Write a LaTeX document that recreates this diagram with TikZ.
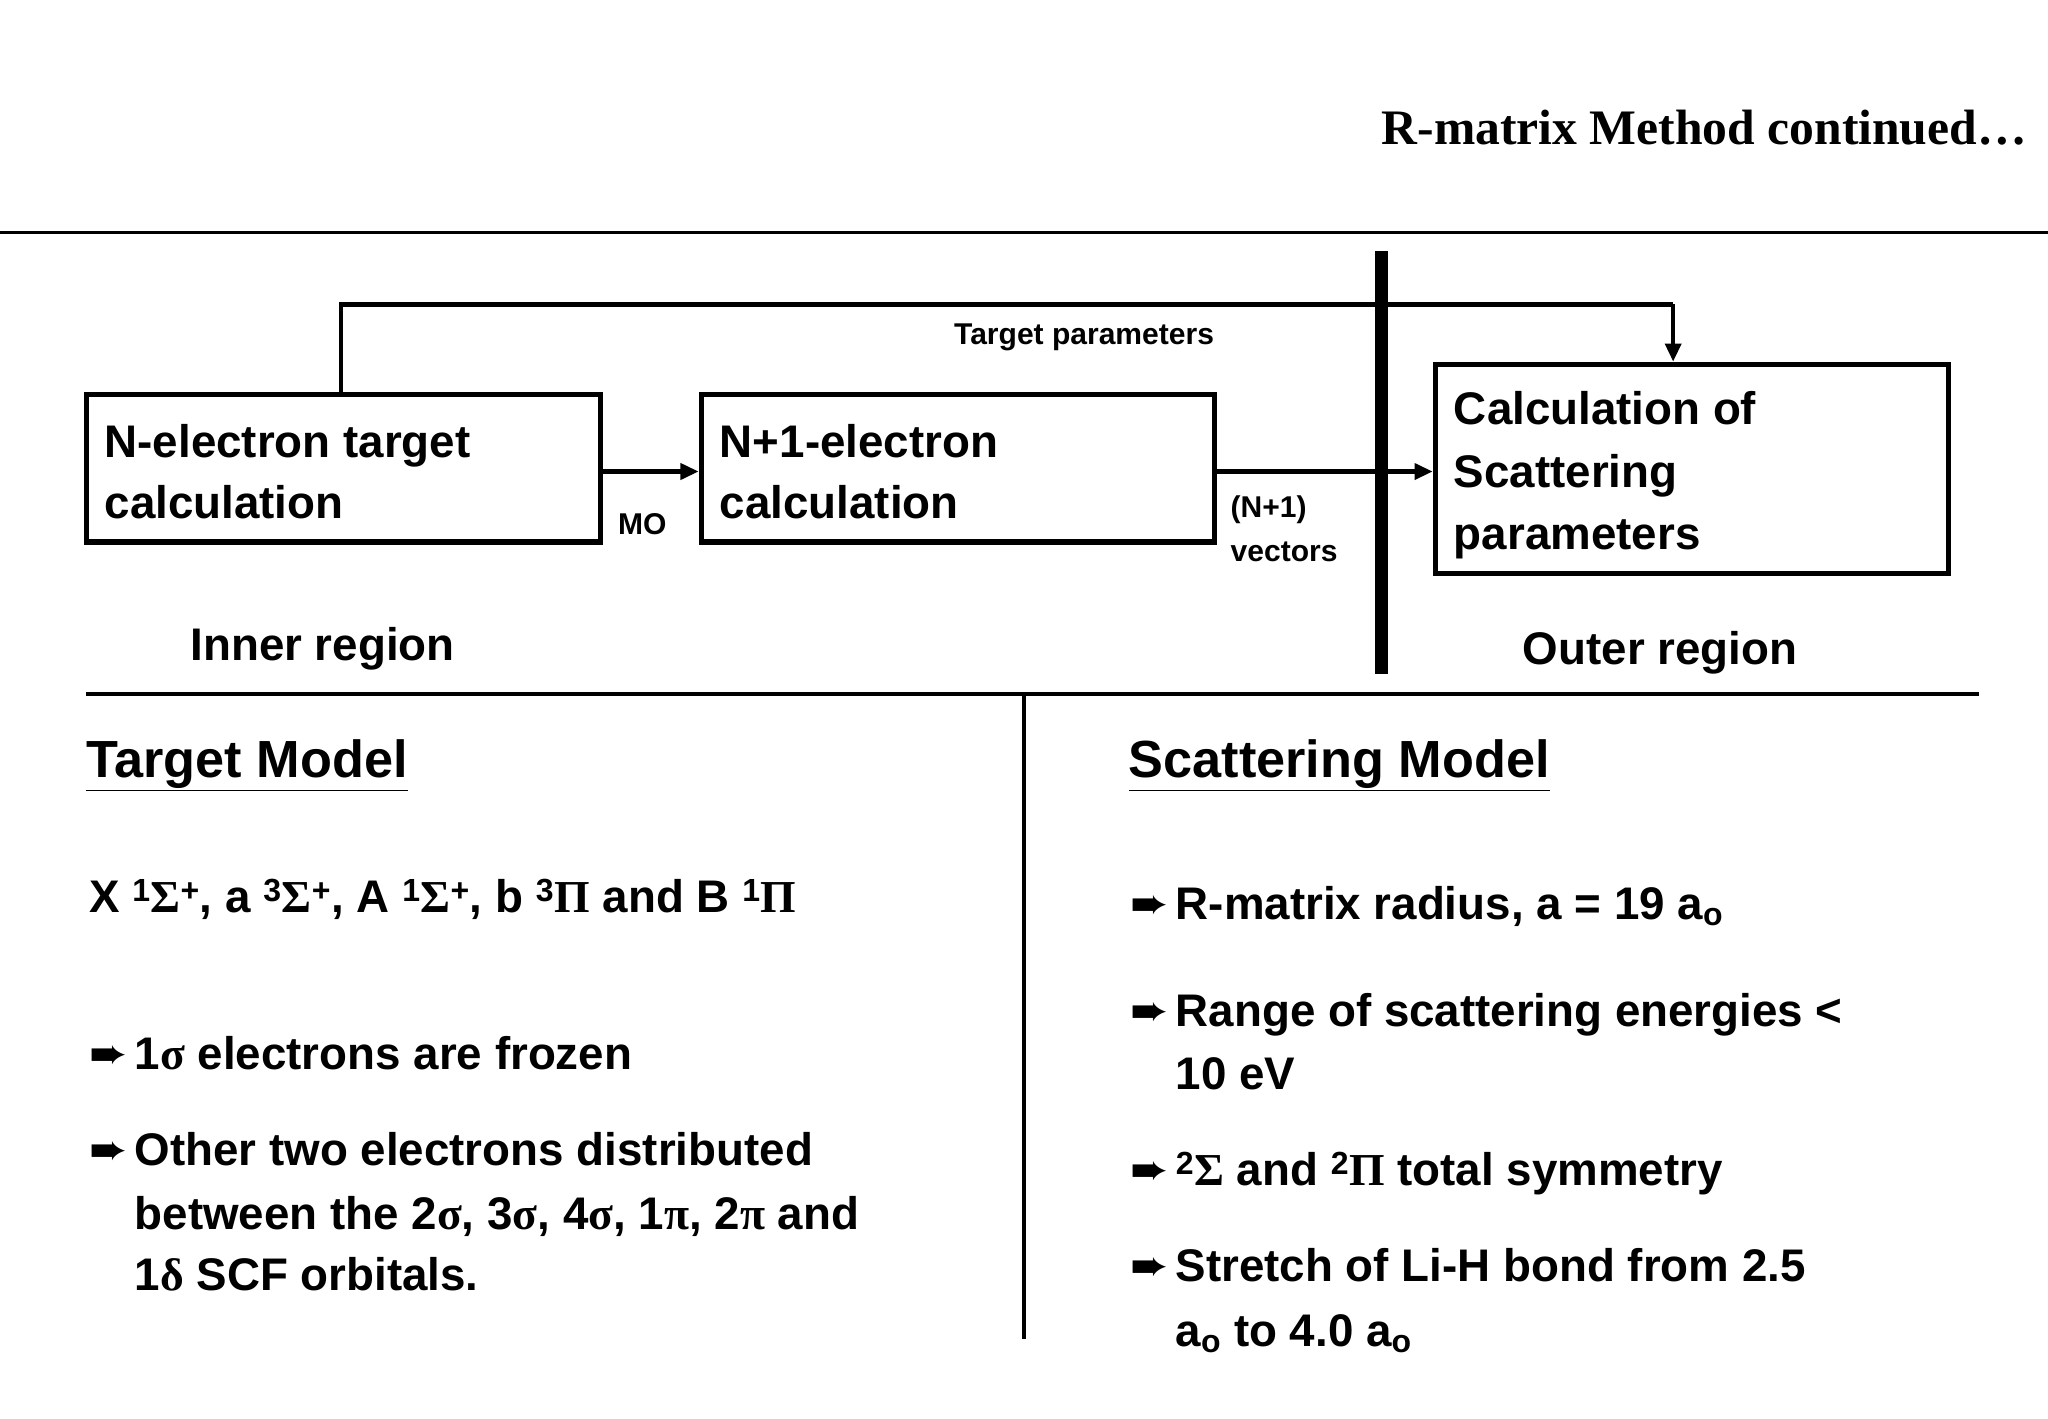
\documentclass[tikz,border=0pt]{standalone}
\usepackage{fontspec}
\setmainfont{Liberation Sans}
\newfontfamily\ser{Liberation Serif}
\newfontfamily\dejavufont{DejaVu Sans}
\usetikzlibrary{arrows.meta}
\newcommand{\gk}[1]{{\ser #1}}
\newcommand{\bul}{{\dejavufont\symbol{"27A8}}}
\begin{document}
\begin{tikzpicture}[x=1pt,y=-1pt,
  box/.style={draw,line width=4pt,anchor=north west,inner sep=0pt},
  txt/.style={anchor=base west,inner sep=0pt,font=\fontsize{35}{42}\selectfont\bfseries},
  sm/.style={anchor=base west,inner sep=0pt,font=\fontsize{23}{28}\selectfont\bfseries},
  ar/.style={line width=3.5pt,-{Triangle[length=14pt,width=12pt]}}]
\useasboundingbox (0,0) rectangle (1568,1086);
\node[anchor=base east,inner sep=0pt,font=\fontsize{38}{44}\selectfont\ser\bfseries] (title) at (1552,111) {R-matrix Method continued\ldots};
\draw[line width=2pt] (0,178) -- (1568,178);
% boxes
\node[box,minimum width=394pt,minimum height=113pt] (b1) at (64,300) {};
\node[box,minimum width=393pt,minimum height=113pt] (b2) at (535,300) {};
\node[box,minimum width=393pt,minimum height=160pt] (b3) at (1097,277) {};
\node[txt] (t1a) at (80,350) {N-electron target};
\node[txt] (t1b) at (80,397) {calculation};
\node[txt] (t2a) at (551,350) {N+1-electron};
\node[txt] (t2b) at (551,397) {calculation};
\node[txt] (t3a) at (1113,325) {Calculation of};
\node[txt] (t3b) at (1113,373) {Scattering};
\node[txt] (t3c) at (1113,421) {parameters};
\draw[ar] (b1.east |- 0,361) -- (b2.west |- 0,361);
\draw[ar] (b2.east |- 0,361) -- (b3.west |- 0,361);
\node[sm] (mo) at (473,409) {MO};
\node[sm] (nv1) at (942,396) {(N+1)};
\node[sm] (nv2) at (942,430) {vectors};
\coordinate (c1) at (261,233);
\coordinate (c2) at (1281,233);
\draw[line width=3.5pt] (b1.north -| 261,0) -- (c1) -- (c2);
\draw[ar] (c2) -- (b3.north -| 1281,0);
\node[sm,anchor=base] (tp) at (830,264) {Target parameters};
\draw[line width=10pt] (1058,192) -- (1058,516);
\node[txt,anchor=base] (inner) at (247,506) {Inner region};
\node[txt,anchor=base] (outer) at (1271,509) {Outer region};
\draw[line width=3pt] (66,531) -- (1515,531);
\draw[line width=3pt] (784,533) -- (784,1025);
% left
\node[txt,font=\fontsize{40}{48}\selectfont\bfseries] (tm) at (66,595) {\underline{Target Model}};
\node[txt] (lev) at (68,699) {X \textsuperscript{1}\gk{Σ}\textsuperscript{+}, a \textsuperscript{3}\gk{Σ}\textsuperscript{+}, A \textsuperscript{1}\gk{Σ}\textsuperscript{+}, b \textsuperscript{3}\gk{Π} and B \textsuperscript{1}\gk{Π}};
\node[txt] (l1b) at (68,819) {\bul};
\node[txt] (l1) at (103,819) {1\gk{σ} electrons are frozen};
\node[txt] (l2b) at (68,892) {\bul};
\node[txt] (l2) at (103,892) {Other two electrons distributed};
\node[txt] (l2c) at (103,941) {between the 2\gk{σ}, 3\gk{σ}, 4\gk{σ}, 1\gk{π}, 2\gk{π} and};
\node[txt] (l2d) at (103,988) {1\gk{δ} SCF orbitals.};
% right
\node[txt,font=\fontsize{40}{48}\selectfont\bfseries] (sm) at (864,595) {\underline{Scattering Model}};
\node[txt] (r1b) at (865,704) {\bul};
\node[txt] (r1) at (900,704) {R-matrix radius, a = 19 a\textsubscript{o}};
\node[txt] (r2b) at (865,786) {\bul};
\node[txt] (r2) at (900,786) {Range of scattering energies <};
\node[txt] (r2c) at (900,834) {10 eV};
\node[txt] (r3b) at (865,908) {\bul};
\node[txt] (r3) at (900,908) {\textsuperscript{2}\gk{Σ} and \textsuperscript{2}\gk{Π} total symmetry};
\node[txt] (r4b) at (865,981) {\bul};
\node[txt] (r4) at (900,981) {Stretch of Li-H bond from 2.5};
\node[txt] (r4c) at (900,1031) {a\textsubscript{o} to 4.0 a\textsubscript{o}};
\end{tikzpicture}
\end{document}
